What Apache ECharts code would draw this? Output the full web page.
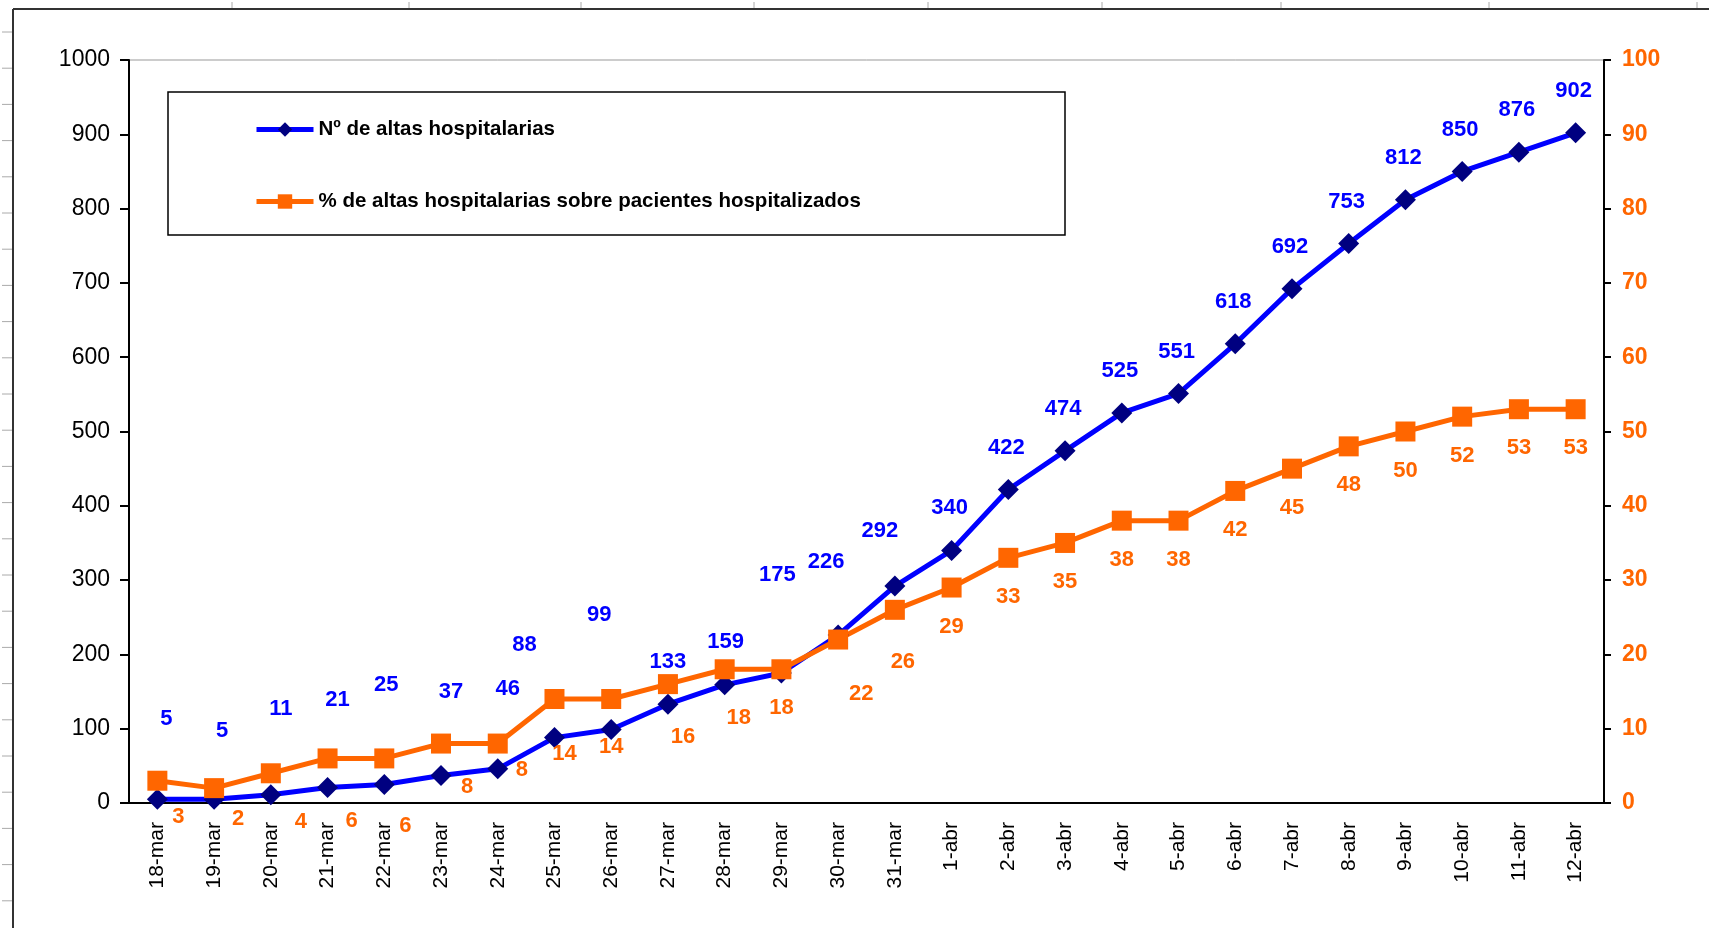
<!DOCTYPE html>
<html>
<head>
<meta charset="utf-8">
<script src="https://cdn.jsdelivr.net/npm/echarts@6/dist/echarts.min.js"></script>
<style>
  html, body { margin: 0; padding: 0; background: #fff; }
  #chart { width: 1709px; height: 928px; }
</style>
</head>
<body>
<div id="chart"></div>
<script>
var dias = ["18-mar", "19-mar", "20-mar", "21-mar", "22-mar", "23-mar", "24-mar", "25-mar", "26-mar", "27-mar", "28-mar", "29-mar", "30-mar", "31-mar",
    "1-abr", "2-abr", "3-abr", "4-abr", "5-abr", "6-abr", "7-abr", "8-abr", "9-abr", "10-abr", "11-abr", "12-abr"];
var altas = [5, 5, 11, 21, 25, 37, 46, 88, 99, 133, 159, 175, 226, 292, 340, 422, 474, 525, 551, 618, 692, 753, 812, 850, 876, 902];
var porcentaje = [3, 2, 4, 6, 6, 8, 8, 14, 14, 16, 18, 18, 22, 26, 29, 33, 35, 38, 38, 42, 45, 48, 50, 52, 53, 53];

// desplazamiento de las etiquetas (como quedaron en la hoja)
var nudgeAltas = [[9, -80], [8, -68], [10, -86], [10, -87], [2, -99], [10, -84], [10, -80], [-30, -93], [-12, -115],
    [0, -42], [1, -43], [-4, -98], [-12, -73], [-15, -55]];
var nudgePorc = [[21, 36], [24, 31], [30, 49], [24, 63], [21, 68], [26, 43], [24, 26], [10, 55], [0, 48],
    [15, 53], [14, 49], [0, 39], [23, 54], [8, 52]];

var fuente = "'Liberation Sans', Arial, sans-serif";

function conEtiquetas(valores, nudge, porDefecto) {
    return valores.map(function (v, i) {
        return { value: v, label: { offset: nudge[i] || porDefecto } };
    });
}

// marco de la hoja y rayitas de las celdas
var decor = [
    { type: 'line', shape: { x1: 13, y1: 9, x2: 1709, y2: 9 }, style: { stroke: '#333', lineWidth: 2 } },
    { type: 'line', shape: { x1: 13, y1: 9, x2: 13, y2: 928 }, style: { stroke: '#333', lineWidth: 2 } },
    { type: 'rect', shape: { x: 168, y: 92, width: 897, height: 143 }, style: { fill: '#fff', stroke: '#000', lineWidth: 1.5 }, z: 1 }
];
[232, 409, 581, 754, 928, 1102, 1281, 1489, 1697].forEach(function (x) {
    decor.push({ type: 'line', shape: { x1: x, y1: 2, x2: x, y2: 8 }, style: { stroke: '#aaa', lineWidth: 1 } });
});
for (var y = 32; y < 928; y += 36.2) {
    decor.push({ type: 'line', shape: { x1: 2, y1: y, x2: 12, y2: y }, style: { stroke: '#aaa', lineWidth: 1 } });
}

var option = {
    animation: false,
    backgroundColor: '#fff',
    grid: {
        left: 129,
        right: 105,
        top: 60,
        bottom: 125,
        show: true,
        borderColor: '#999',
        borderWidth: 1
    },
    graphic: decor,
    legend: {
        orient: 'vertical',
        left: 254,
        top: 119,
        padding: 0,
        itemWidth: 57,
        itemHeight: 18,
        itemGap: 51,
        lineStyle: { width: 5 },
        textStyle: { fontFamily: fuente, fontWeight: 'bold', fontSize: 20.5, color: '#000' },
        data: ['Nº de altas hospitalarias', '% de altas hospitalarias sobre pacientes hospitalizados']
    },
    xAxis: {
        type: 'category',
        data: dias,
        axisLine: { lineStyle: { color: '#000', width: 2 } },
        axisTick: { length: 10, lineStyle: { color: '#000', width: 2 } },
        axisLabel: { rotate: 90, margin: 19, fontFamily: fuente, fontSize: 21, color: '#000', interval: 0 }
    },
    yAxis: [
        {
            type: 'value',
            min: 0,
            max: 1000,
            interval: 100,
            splitLine: { show: false },
            axisLine: { show: true, lineStyle: { color: '#000', width: 2 } },
            axisTick: { show: true, length: 9, lineStyle: { color: '#000', width: 2 } },
            axisLabel: {
                margin: 19, fontFamily: fuente, fontSize: 23, color: '#000',
                formatter: function (v) { return String(v); }
            }
        },
        {
            type: 'value',
            min: 0,
            max: 100,
            interval: 10,
            position: 'right',
            splitLine: { show: false },
            axisLine: { show: true, lineStyle: { color: '#000', width: 2 } },
            axisTick: { show: true, length: 7, lineStyle: { color: '#000', width: 2 } },
            axisLabel: { margin: 18, fontFamily: fuente, fontWeight: 'bold', fontSize: 23, color: '#ff6600' }
        }
    ],
    series: [
        {
            name: 'Nº de altas hospitalarias',
            type: 'line',
            data: conEtiquetas(altas, nudgeAltas, [-2, -42]),
            symbol: 'diamond',
            symbolSize: 21,
            lineStyle: { color: '#0000ff', width: 5 },
            itemStyle: { color: '#000080' },
            label: {
                show: true,
                position: 'inside',
                color: '#0000ff',
                fontFamily: fuente,
                fontWeight: 'bold',
                fontSize: 22
            }
        },
        {
            name: '% de altas hospitalarias sobre pacientes hospitalizados',
            type: 'line',
            yAxisIndex: 1,
            data: conEtiquetas(porcentaje, nudgePorc, [0, 39]),
            symbol: 'rect',
            symbolSize: 20,
            lineStyle: { color: '#ff6600', width: 5 },
            itemStyle: { color: '#ff6600' },
            label: {
                show: true,
                position: 'inside',
                color: '#ff6600',
                fontFamily: fuente,
                fontWeight: 'bold',
                fontSize: 22
            }
        }
    ]
};

var chart = echarts.init(document.getElementById('chart'));
chart.setOption(option);
</script>
</body>
</html>
